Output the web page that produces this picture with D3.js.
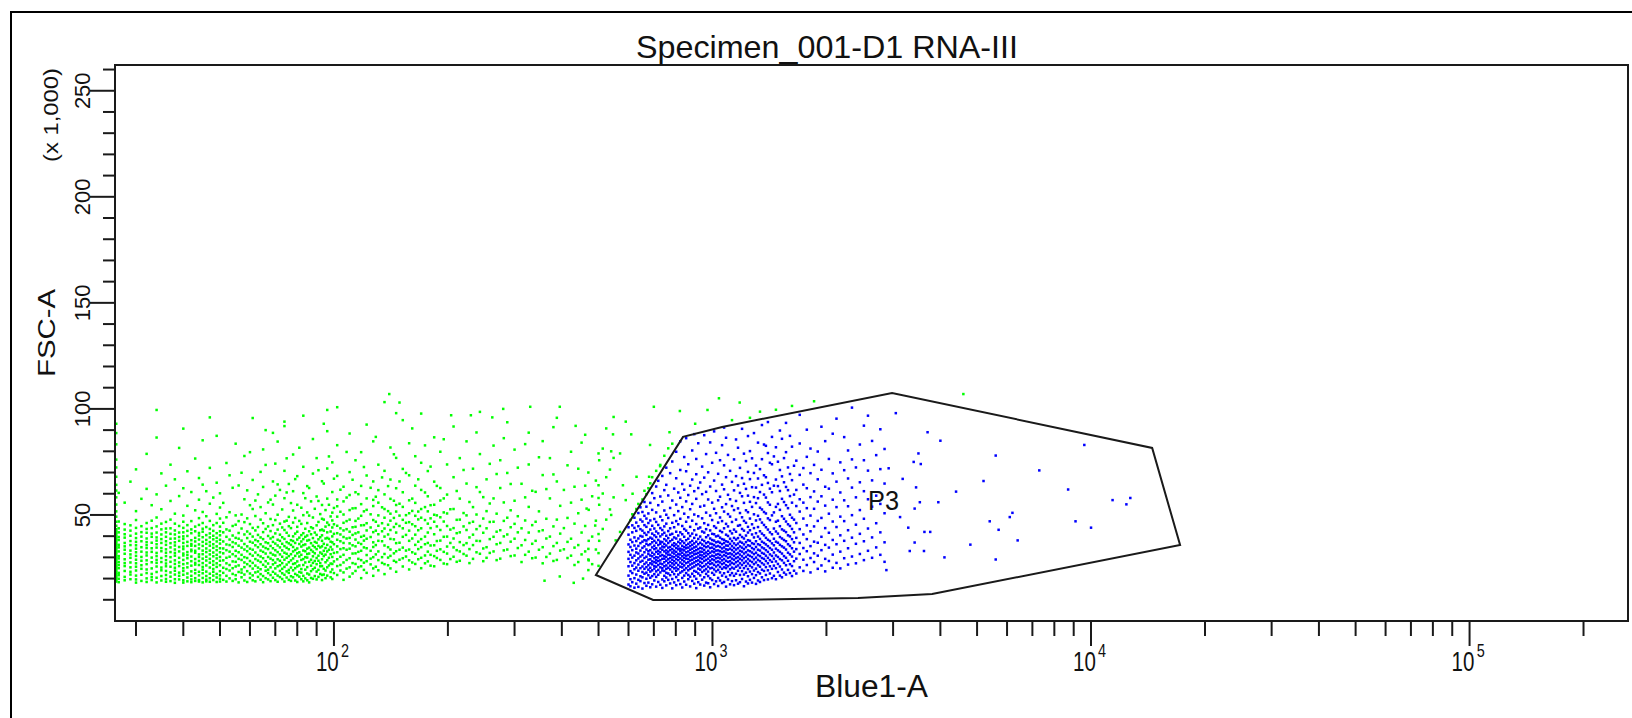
<!DOCTYPE html>
<html>
<head>
<meta charset="utf-8">
<script src="https://cdn.jsdelivr.net/npm/d3@7"></script>
<style>
  html, body { margin: 0; padding: 0; background: #fff; }
  svg { display: block; }
  text { font-family: "Liberation Sans", Arial, Helvetica, sans-serif; fill: #111; }
</style>
</head>
<body>
<div id="chart"></div>
<script>
// Axis ranges (Blue1-A log, FSC-A in thousands)
const xDomain = [26.4, 262144];
const yDomain = [0, 262.144];

const xMajorTicks = [100, 1000, 10000, 100000];
const xMinorTicks = [30, 40, 50, 60, 70, 80, 90, 200, 300, 400, 500, 600, 700, 800, 900,
  2000, 3000, 4000, 5000, 6000, 7000, 8000, 9000, 20000, 30000, 40000, 50000, 60000, 70000,
  80000, 90000, 200000];
const yMajorTicks = [50, 100, 150, 200, 250];
const yMinorTicks = [10, 20, 30, 40, 60, 70, 80, 90, 110, 120, 130, 140, 160, 170, 180, 190,
  210, 220, 230, 240, 260];

// P3 gate vertices [Blue1-A, FSC-A k]
const gateP3 = [[492, 21.7], [697, 9.9], [1060, 9.9], [2424, 10.8], [3804, 12.7], [17190, 35.8],
  [14505, 81.6], [2981, 107.5], [1060, 91.5], [836, 86.8]];
const gateLabel = { name: "P3", x: 2576, y: 52.3 };

// events, grouped by Blue1-A channel: [Blue1-A, [FSC-A in k]]
const lowColumns = [
  [26.6, [18.6,19.4,20.3,21.1,22.0,22.8,23.7,24.5,25.4,26.2,27.1,27.9,28.8,29.6,30.5,31.3,32.2,33.0,33.9,34.7,35.6,36.4,37.3,38.1,39.0,39.8,40.7,41.6,42.4,43.3,44.9,46.8,49.2,51.7,54.9,58.3,61.5,64.2,68.0,72.4,76.1,83.3,88.6,93.0]],
  [27, [18.3,19.9,21.6,22.7,24.9,26.4,27.8,29.5,30.6,32.8,34.7,35.9,38.2,39.6,41.8,43.7,46.9,60.4]],
  [28, [19.2,20.8,23.6,25.9,27.3,29.1,31.7,33.6,35.2,36.8,39.3,40.9,43.1,45.7,55.8]],
  [29, [19.7,21.9,23.2,25.3,27.6,29.8,31.4,33.2,35.8,37.7,40.2,42.6,45.1,65.7]],
  [30, [18.1,19.6,21.4,23.8,25.6,27.2,28.9,30.7,32.4,34.1,35.7,37.3,39.1,41.2,43.9,47.6,51.8,71.5]],
  [31, [18.9,21.8,24.6,26.3,28.4,30.2,32.7,34.8,37.6,39.8,41.9,44.7,57.6]],
  [32, [18.4,20.1,22.6,24.3,26.8,28.6,30.9,32.3,34.4,35.8,37.2,38.9,41.6,43.4,46.2,62.3,78.8]],
  [33, [19.3,20.7,22.2,24.8,27.7,29.9,32.6,34.3,36.9,39.7,41.2,43.8,47.3,54.6]],
  [34, [18.2,20.4,23.1,25.7,27.4,28.8,30.6,32.1,34.6,36.2,37.9,39.4,41.7,44.6,48.8,59.7,86.5]],
  [35, [19.1,21.2,23.9,25.2,27.8,29.7,32.9,34.4,36.8,38.6,40.8,43.2,45.9,52.7,69.6]],
  [36, [18.5,19.8,21.7,23.6,25.8,27.1,28.7,30.6,32.2,33.8,35.9,37.6,39.7,41.8,43.6,46.7,63.8]],
  [37, [18.8,20.9,22.9,25.6,27.9,30.1,32.5,34.7,36.7,38.8,41.1,43.7,47.8,56.6,73.7]],
  [38, [18.0,19.7,21.9,23.7,25.1,26.9,28.6,30.8,32.1,33.7,35.6,37.1,38.9,40.8,42.7,45.9,50.6,66.8]],
  [39, [19.6,21.3,22.8,25.9,27.6,29.8,32.8,34.9,37.8,39.6,41.7,44.8,58.9,81.6]],
  [40, [18.1,19.2,21.8,23.6,24.9,26.8,28.8,30.9,31.8,33.9,35.1,36.8,38.7,39.9,41.8,43.9,46.8,49.7,62.6,90.7]],
  [41, [18.7,20.5,22.4,25.3,27.2,29.6,31.1,32.5,35.4,37.3,40.1,42.5,45.2,54.3,70.6]],
  [42, [18.3,19.6,21.3,23.4,26.1,28.2,30.4,32.9,33.6,35.5,36.3,38.1,41.4,43.2,47.1,60.8]],
  [43, [18.9,20.2,22.5,24.1,26.6,27.4,29.2,32.2,33.1,35.4,37.5,39.2,42.3,44.5,52.2,76.6]],
  [44, [18.6,19.3,21.5,23.2,26.4,28.3,30.2,31.4,34.2,36.1,38.4,40.3,41.5,45.3,48.5,57.2,67.4]],
  [45, [18.2,20.3,22.5,24.2,25.5,27.3,29.4,31.5,33.2,35.4,37.3,39.5,42.1,43.5,46.2,51.4,64.3,85.2]],
  [46, [18.7,19.5,21.2,23.3,26.2,28.5,30.3,32.5,34.2,36.4,38.2,40.5,44.3,49.4,61.2]],
  [47, [18.5,20.2,22.3,25.2,27.5,29.3,31.4,33.2,35.5,37.2,39.4,41.3,43.4,47.2,55.3,72.2]],
  [48, [19.3,21.4,23.2,24.5,26.5,28.2,30.5,32.3,34.5,36.2,38.5,40.2,42.5,45.2,58.2]],
  [49, [18.4,20.5,22.2,25.5,27.2,29.5,31.2,33.4,35.2,37.5,39.2,41.4,46.2,50.5,65.2,87.3]],
  [50, [18.6,19.9,21.5,23.5,26.3,28.4,30.2,32.4,34.3,36.5,38.3,40.4,42.3,44.5,48.3,53.5,60.2]],
  [51, [19.4,22.7,25.1,28.6,31.9,34.2,37.5,41.8,46.3,55.7]],
  [52, [18.6,21.3,24.5,27.2,29.8,33.4,36.1,39.7,43.2,48.9,74.5]],
  [53, [20.1,23.8,26.4,30.3,32.7,35.8,38.4,42.6,51.3,68.7]],
  [54, [18.9,22.2,24.9,28.1,31.5,34.9,37.2,40.3,44.8,62.8]],
  [55, [19.7,21.6,25.7,27.9,30.6,33.1,36.6,39.2,45.4,49.8,83.6]],
  [56, [18.2,23.1,26.2,29.3,32.4,35.5,38.8,41.5,47.1,63.9]],
  [57, [20.6,22.8,24.3,28.8,31.2,34.6,37.9,43.6,50.2,69.9]],
  [58, [19.1,21.9,25.4,27.6,30.1,33.7,36.3,40.8,46.6,57.4,77.8]],
  [59, [18.4,23.5,26.8,29.7,32.9,35.2,39.1,42.2,48.4,61.6]],
  [60, [20.3,22.4,25.9,28.3,31.6,34.1,37.4,41.1,45.7,54.6,79.6]],
  [61, [19.2,21.5,24.7,27.4,30.8,33.6,36.9,39.8,43.9,52.8,66.5,95.7]],
  [62, [18.7,22.9,26.1,29.2,32.3,35.7,38.2,42.7,49.5,56.8]],
  [63, [20.8,23.3,25.2,28.5,31.1,34.8,37.6,40.6,44.3,59.7]],
  [64, [19.5,22.1,24.4,27.8,30.4,33.2,36.2,39.4,47.8,53.7,70.3]],
  [65, [18.3,21.2,26.5,29.6,32.6,35.1,38.6,41.9,46.1,63.2,80.9]],
  [66, [20.2,23.7,25.6,28.2,31.8,34.4,37.1,43.4,50.8,73.6]],
  [67, [19.6,22.6,24.2,27.1,30.2,33.9,36.7,40.1,44.6,55.9]],
  [68, [18.8,21.7,25.3,29.4,32.1,35.4,38.9,42.4,48.1,57.2]],
  [69, [20.4,23.2,26.7,28.7,31.3,34.3,37.3,39.6,45.2,54.9,65.8,88.7]],
  [70, [19.3,22.3,24.8,27.5,30.9,33.4,36.5,41.3,47.6,59.1,74.2]],
  [71, [18.5,21.4,25.8,29.1,32.5,35.6,38.3,43.1,50.1,64.4,84.6]],
  [72, [20.7,23.6,26.3,28.4,31.4,34.7,37.8,40.7,45.9,61.8]],
  [73, [19.8,22.5,24.6,27.3,30.3,33.3,36.4,39.5,44.1,52.6]],
  [74, [18.6,21.8,25.5,28.9,32.2,35.3,38.7,42.9,46.9,57.9,70.8,91.9]],
  [75, [20.5,23.4,26.6,29.8,31.7,34.5,37.2,41.6,47.3,60.6,76.7]],
  [76, [19.4,22.7,24.1,27.7,30.6,33.8,36.6,40.2,44.7,49.1,64.6]],
  [77, [18.9,21.1,25.2,28.6,31.5,35.9,38.1,43.8,55.6]],
  [78, [20.6,23.9,26.9,29.5,32.8,34.9,37.7,39.9,46.4,52.1,61.2,78.5]],
  [79, [19.1,22.2,24.9,27.2,30.7,33.5,36.8,41.2,48.6,66.9]],
  [80, [18.4,21.6,25.7,28.1,31.9,34.2,38.4,42.1,44.4,54.8,68.3]],
  [81, [20.9,23.1,26.2,30.4,32.4,36.3,39.3,47.2,81.7]],
  [82, [19.7,22.8,24.5,28.8,31.2,35.1,37.5,40.5,45.8,53.4]],
  [83, [18.7,21.3,26.4,29.2,33.2,35.8,38.6,41.4,49.9,60.3,72.7,96.8]],
  [84, [20.1,24.2,27.6,30.1,32.9,36.1,39.7,43.5,57.9]],
  [85, [19.2,22.4,25.4,29.9,31.6,34.1,37.9,40.3,46.2,51.2,63.6]],
  [86, [18.2,21.9,27.9,31.8,34.6,38.2,42.3,49.7,62.7]],
  [87, [20.3,23.5,26.1,28.9,33.5,36.7,40.9,44.2,56.4]],
  [88, [19.9,24.4,27.4,30.5,32.7,35.5,39.1,43.7,48.8,69.5,85.8]],
  [89, [21.2,25.1,28.3,31.9,34.8,37.3,41.7,52.9]],
  [90, [19.6,23.3,26.8,29.7,33.9,36.9,40.6,45.1,58.7,76.8]],
  [91, [20.8,24.1,28.4,30.8,35.4,38.5,46.7,56.6,71.1]],
  [92, [22.2,25.8,27.3,32.3,34.7,39.5,42.8,50.4]],
  [93, [19.3,21.7,25.9,29.1,31.7,35.2,37.8,40.4,43.1,48.2,54.7,65.9]],
  [94, [21.9,24.6,30.6,33.1,36.4,42.6,47.8,64.8]],
  [95, [20.2,23.8,27.7,31.3,34.4,38.9,44.5,52.3]],
  [96, [21.4,25.3,28.6,32.8,35.9,39.2,41.8,46.4,57.7,71.9,89.5]],
  [97, [26.2,29.8,33.6,38.7,45.3,54.8,77.6]],
  [98, [20.6,23.1,27.1,31.5,34.9,37.4,42.2,49.3]],
  [99, [19.8,24.3,26.9,30.2,33.7,37.1,39.9,44.1,47.4,51.1,60.8,74.8]],
  [100, [22.6,28.1,32.1,36.2,41.1,45.6,53.3,67.1]],
  [102, [21.7,25.9,29.1,32.4,35.2,38.3,41.4,44.9,49.2,54.1,57.3,68.4,82.9,100.8]],
  [104, [23.8,26.4,30.3,33.9,37.6,40.8,43.7,51.5,61.9]],
  [106, [19.4,22.9,27.6,31.2,34.3,36.8,39.6,42.7,46.3,50.2,56.4,63.3]],
  [108, [24.7,28.8,33.6,38.9,43.3,47.1,58.2,79.7]],
  [110, [20.9,25.3,29.6,34.1,36.6,39.2,42.1,47.8,52.3,59.4,70.2,88.4]],
  [112, [22.4,27.3,31.8,35.7,40.6,44.2,53.1,66.6]],
  [114, [23.6,26.9,31.9,35.2,38.4,41.3,44.4,47.2,53.2,60.7,75.8]],
  [116, [25.4,29.3,32.6,36.9,41.8,48.3,59.8]],
  [118, [20.2,25.8,28.7,33.1,36.3,39.7,45.1,49.6,55.1,63.7,79.6]],
  [120, [24.1,27.5,34.7,37.9,40.2,45.2,51.7,72.6]],
  [122, [22.7,28.2,31.1,34.3,38.8,42.7,46.1,52.4,57.8,68.6,92.6]],
  [125, [26.7,29.4,33.1,39.6,44.1,50.3,62.8]],
  [127, [21.3,24.8,30.1,34.9,37.1,41.9,47.6,54.2,57.1,65.8,84.7]],
  [129, [25.6,31.4,35.8,42.6,46.8,58.6,86.8]],
  [131, [23.9,28.7,32.8,37.8,40.9,44.9,49.8,55.8,61.7,73.7]],
  [134, [27.4,30.1,37.6,42.3,46.1,53.6,67.7]],
  [136, [22.1,26.8,31.6,35.6,39.8,43.6,48.7,52.8,59.7,70.8,103.2]],
  [139, [26.3,29.9,34.8,40.8,45.4,51.8,63.6]],
  [141, [24.8,30.7,33.7,38.7,42.9,47.3,50.6,57.6,66.7,81.8]],
  [144, [28.4,31.9,38.5,44.3,48.6,56.7,78.6]],
  [146, [23.2,27.8,32.9,36.7,41.7,45.8,51.6,54.7,62.6,76.9]],
  [149, [28.9,33.6,36.9,44.8,49.7,55.3,65.8]],
  [152, [25.7,29.6,34.6,39.7,43.7,47.7,53.8,60.7,71.7,94.7]],
  [155, [30.4,33.2,40.6,46.3,49.9,69.8]],
  [158, [24.3,28.6,33.7,37.8,42.6,46.6,50.8,56.9,68.7,83.8]],
  [161, [27.6,32.4,38.9,45.6,51.9,57.7,90.8]],
  [164, [26.9,31.7,35.9,40.7,44.7,49.6,55.7,63.8,77.7]],
  [167, [29.1,33.9,37.4,42.8,47.9,51.6,66.8]],
  [170, [24.9,29.8,34.8,38.6,43.7,48.7,52.8,61.8,74.6,97.8]],
  [174, [27.2,30.9,36.2,39.8,47.6,53.7,60.6,82.8]],
  [177, [28.1,32.7,36.8,41.7,45.9,51.7,58.8,70.7]],
  [180, [26.1,31.2,35.6,43.8,48.4,54.6,72.8]],
  [184, [25.8,30.6,35.7,40.9,46.8,50.1,54.8,65.7,86.6]],
  [187, [29.7,33.1,37.7,44.6,49.8,63.7]],
  [191, [28.8,33.8,37.9,42.9,48.9,56.8,62.7,79.8]],
  [195, [27.1,32.6,39.7,46.9,51.2,57.8,85.7]],
  [199, [26.8,31.8,35.1,39.8,44.8,50.7,59.6,73.8]],
  [203, [29.2,36.8,43.1,52.7]],
  [207, [30.3,34.7,38.9,43.8,52.8,67.8,91.7]],
  [211, [27.9,33.4,41.4,47.7,61.3]],
  [215, [28.4,32.8,37.2,41.8,47.8,57.7,76.8]],
  [220, [31.6,35.8,44.6,50.9,71.2]],
  [224, [30.8,36.7,42.9,49.8,64.8,84.7]],
  [228, [27.3,33.9,39.4,46.2,56.1]],
  [233, [29.3,35.8,40.7,46.8,53.7,71.8]],
  [238, [32.4,37.8,43.3,50.2,63.1,88.9]],
  [243, [31.7,37.7,44.8,60.8,78.7,98.6]],
  [248, [28.2,34.2,41.6,48.3,58.4]],
  [253, [29.8,34.8,43.7,51.8,66.8]],
  [258, [32.1,38.6,46.7,55.4,74.1]],
  [264, [32.8,39.7,46.8,57.8,82.7]],
  [269, [28.7,36.2,42.1,50.6,69.3]],
  [275, [29.4,36.8,42.8,62.7,75.8]],
  [281, [33.3,39.9,47.2,55.9,86.2]],
  [287, [33.7,40.8,48.7,69.8,93.7]],
  [293, [30.6,37.4,44.2,52.2,64.6]],
  [300, [30.9,38.8,45.8,56.7,80.8]],
  [306, [34.4,41.8,49.4,72.3]],
  [313, [27.8,35.7,43.7,64.7]],
  [320, [31.2,38.2,47.4,58.3,83.4]],
  [327, [32.7,41.7,53.8,73.8,88.8]],
  [334, [29.6,36.4,45.2,61.4]],
  [341, [29.9,37.8,46.8,60.9]],
  [348, [33.6,42.3,51.7,77.2]],
  [356, [27.2,34.8,42.8,68.8,84.8]],
  [364, [30.2,38.9,48.2,62.2]],
  [372, [31.8,39.8,57.8,76.8]],
  [380, [28.3,35.3,44.6,69.1,91.4]],
  [388, [28.8,36.8,47.8,65.8,95.8]],
  [396, [33.2,41.2,54.3]],
  [405, [33.8,43.8,61.8]],
  [414, [29.7,37.3,48.6,73.4]],
  [423, [30.8,38.8,55.8,79.8]],
  [432, [26.4,34.6,45.9,63.3]],
  [442, [27.8,35.8,50.8,71.8]],
  [451, [31.4,41.7,57.2,84.1]],
  [461, [32.8,44.8,63.8,87.8]],
  [471, [28.6,37.8,52.4]],
  [481, [26.8,39.8,58.8]],
  [492, [33.7,47.3,66.2]],
  [502, [37.8,54.8,75.8]],
  [513, [43.4,60.1,81.3]],
  [524, [47.8,67.8,90.8]],
  [536, [52.6,71.4]],
  [548, [58.3,76.9,96.2]]
];

const p3Columns = [
  [600, [17.2,21.4,25.8,29.3,32.6,36.1,40.7,44.2]],
  [607, [16.4,19.7,23.5,27.8,31.2,34.9,38.3,47.6]],
  [614, [18.3,22.6,26.1,29.9,33.4,37.2,41.8,45.1,50.3]],
  [622, [15.7,20.2,24.4,27.3,30.8,35.6,39.4,43.9,48.7]],
  [629, [17.6,21.9,25.2,28.6,32.3,34.1,37.7,42.5,46.4,52.8]],
  [637, [16.1,19.4,23.7,26.6,29.5,31.8,35.4,38.9,44.7,50.9,55.2]],
  [645, [18.8,21.1,24.9,27.9,30.4,33.2,36.7,40.1,43.3,47.8,53.6]],
  [653, [15.3,20.6,23.1,25.7,28.4,31.1,34.5,37.4,39.8,42.6,46.9,51.4,57.3]],
  [661, [17.9,22.3,24.6,26.9,29.7,32.4,35.2,38.1,41.5,45.2,49.6,56.1,61.4]],
  [669, [16.6,19.9,22.8,25.4,27.6,30.3,33.7,36.4,37.9,40.6,44.4,48.3,53.9,59.8]],
  [677, [18.1,21.6,24.2,26.3,28.9,31.6,32.9,35.8,38.6,41.9,46.2,50.7,62.6]],
  [685, [15.9,20.4,23.3,25.1,27.2,29.1,30.9,33.4,36.2,39.3,43.1,47.4,55.7,64.9]],
  [693, [17.3,21.2,23.9,26.7,28.1,30.5,32.2,34.7,37.1,38.8,41.2,44.9,52.4,60.3,67.8]],
  [702, [19.1,22.1,24.7,25.9,27.8,29.6,31.4,33.9,35.5,37.8,40.4,43.6,48.1,57.9]],
  [710, [16.2,20.8,23.4,25.6,27.4,28.7,30.1,32.6,34.3,36.9,39.6,42.2,46.7,51.2,63.4,70.8]],
  [719, [18.4,21.8,24.1,26.4,28.3,29.9,31.7,33.1,35.8,38.2,41.3,45.3,54.6,66.1]],
  [728, [17.1,22.9,25.3,27.1,28.6,30.7,32.4,34.2,36.4,37.4,39.9,43.8,49.2,58.7,73.6]],
  [737, [15.6,19.6,23.8,24.9,26.8,29.3,31.1,33.6,35.1,37.2,40.8,42.9,47.5,56.3,68.4]],
  [746, [18.7,21.3,23.6,25.8,27.7,29.4,30.6,32.8,34.8,36.3,38.6,41.6,44.6,52.1,61.7,77.9]],
  [755, [16.8,20.5,22.7,24.6,26.2,28.4,30.2,31.9,33.3,35.6,37.9,40.2,45.9,50.1,64.2,72.3]],
  [764, [19.4,22.4,25.1,27.3,29.1,31.3,32.7,34.6,36.8,39.1,42.4,48.6,59.2,81.4]],
  [773, [17.7,21.6,24.3,26.1,27.9,29.7,31.2,33.4,34.9,37.6,40.7,43.7,53.3,69.7]],
  [783, [15.4,19.8,23.2,25.5,27.2,28.9,30.4,32.3,33.9,35.9,38.3,41.1,46.3,56.8,75.2,83.6]],
  [792, [18.2,22.1,24.8,26.6,28.2,30.1,31.8,33.2,35.3,36.7,39.4,44.2,49.9,62.4]],
  [802, [16.9,20.7,23.7,25.2,27.4,29.2,30.9,32.6,34.4,36.1,38.9,42.1,47.1,54.9,67.3,79.8]],
  [812, [19.2,21.9,24.4,26.4,28.7,30.3,31.6,33.8,35.2,37.3,40.3,45.6,51.8,60.6]],
  [822, [17.4,22.8,25.6,27.6,29.5,31.4,32.9,34.1,36.6,38.4,41.8,48.2,58.1,71.2,84.7]],
  [832, [15.8,20.3,23.4,25.3,26.9,28.8,30.5,32.2,33.7,35.4,37.6,40.9,44.8,53.7,64.6]],
  [842, [18.6,21.4,24.1,26.2,28.1,29.8,31.3,33.3,34.8,36.8,39.7,43.4,50.6,61.9,77.3]],
  [852, [17.1,22.6,24.9,27.3,29.4,30.8,32.4,34.3,35.7,38.1,42.6,46.8,56.4,70.6,86.2]],
  [863, [19.7,21.7,23.9,25.8,27.7,29.2,31.1,32.8,34.6,36.4,38.8,41.4,48.9,59.4,73.9]],
  [873, [16.3,20.9,24.6,26.6,28.5,30.2,31.9,33.6,35.3,37.1,40.1,44.4,52.7,63.8]],
  [884, [18.9,22.3,25.2,27.1,28.9,30.6,32.3,34.1,35.9,37.8,41.2,47.3,55.2,66.7,80.4]],
  [895, [17.6,21.1,23.6,25.7,27.6,29.5,31.4,32.9,34.7,36.6,39.2,42.8,50.2,61.2,88.1]],
  [906, [15.5,19.9,23.2,26.3,28.2,29.9,31.7,33.4,35.1,37.4,40.6,45.7,57.6,69.2,76.4]],
  [917, [18.3,22.4,24.7,26.8,28.6,30.4,32.1,33.9,36.2,38.7,43.6,49.4,62.7,83.8]],
  [928, [17.2,21.5,24.2,26.1,27.9,29.7,31.2,32.7,34.5,36.9,39.8,44.1,53.9,65.3]],
  [939, [19.5,23.1,25.4,27.4,29.3,30.9,32.6,34.2,36.1,38.3,42.2,48.4,59.8,72.8]],
  [951, [16.7,20.6,23.8,25.9,28.3,30.1,31.8,33.5,35.4,37.7,41.7,46.1,54.4,67.6,87.6]],
  [962, [18.1,22.2,24.5,26.7,28.8,30.7,32.3,34.8,36.7,39.5,43.3,51.1,60.9,78.7]],
  [974, [17.8,21.2,23.3,25.6,27.5,29.4,31.5,33.1,35.2,37.2,40.4,45.3,57.3,70.1]],
  [986, [15.9,20.1,24.8,26.9,28.4,30.3,32.2,34.4,36.5,38.9,42.7,49.7,63.4,84.2]],
  [998, [19.3,22.7,25.1,27.2,29.1,30.8,32.8,34.6,36.3,38.2,41.1,47.6,55.8,74.6]],
  [1010, [17.4,21.8,24.3,26.5,28.7,30.5,32.4,33.9,35.8,37.9,40.9,44.7,52.9,66.2,89.4]],
  [1022, [18.7,23.4,25.7,27.8,29.6,31.3,33.2,35.1,37.1,39.9,43.9,50.8,61.3,79.3]],
  [1035, [16.5,20.3,24.1,26.4,28.1,29.9,31.6,33.3,35.4,37.4,40.2,46.4,56.9,69.4]],
  [1047, [19.1,22.9,25.5,27.6,29.5,31.2,32.9,34.9,36.9,39.3,42.5,48.8,58.6,75.8]],
  [1060, [17.9,21.4,24.6,26.8,28.6,30.4,32.5,34.2,36.2,38.6,41.9,47.1,53.6,64.3,82.9]],
  [1073, [18.4,22.5,25.3,27.3,29.2,31.1,32.8,34.7,36.8,38.3,43.7,51.6,62.1,73.4,91.2]],
  [1086, [16.2,20.8,24.9,26.3,28.4,30.6,32.2,33.8,35.6,37.6,40.7,45.8,55.1,67.8,86.4]],
  [1099, [19.6,23.2,25.8,27.9,29.8,31.7,33.6,35.5,37.3,40.1,44.6,50.4,59.5,78.3]],
  [1113, [17.3,21.6,24.4,26.6,28.2,30.2,31.9,34.1,36.4,38.8,42.4,49.2,57.4,70.8]],
  [1126, [18.8,22.6,25.2,27.4,29.4,31.4,33.4,35.3,37.7,41.3,46.7,54.2,65.6,94.7]],
  [1140, [16.9,21.3,24.7,26.9,28.9,30.7,32.6,34.5,36.6,39.2,43.1,52.3,61.6,76.2]],
  [1154, [19.2,22.3,25.6,27.7,29.7,31.6,33.7,35.8,38.4,42.1,47.8,56.6,68.3,85.6]],
  [1168, [17.6,23.7,26.2,28.3,30.1,32.1,34.3,36.5,39.1,44.9,53.1,63.9,81.7]],
  [1182, [18.3,21.7,25.1,27.2,29.3,31.3,33.1,35.2,37.4,40.6,45.2,50.9,60.4,72.2]],
  [1197, [19.8,23.5,26.4,28.6,30.5,32.7,34.6,36.9,39.6,43.4,48.9,58.8,67.4,90.6]],
  [1211, [16.4,21.9,24.9,27.4,29.6,31.8,33.9,36.1,38.9,42.6,47.2,55.7,64.7,78.9]],
  [1226, [18.6,22.8,25.9,28.1,30.3,32.4,34.8,37.2,40.3,46.3,52.2,62.3,75.4]],
  [1241, [17.7,21.1,24.5,27.1,29.2,31.2,33.3,35.7,38.1,41.7,44.4,51.3,59.1,70.3,87.2]],
  [1256, [19.4,23.3,26.1,28.4,30.7,32.9,35.4,37.8,42.8,48.3,56.2,66.9,80.1,95.8]],
  [1272, [18.1,22.1,25.3,27.8,30.1,32.3,34.4,36.7,40.8,45.6,53.8,63.1,76.7]],
  [1287, [20.3,23.8,26.8,29.1,31.5,33.8,36.3,39.4,43.8,50.3,58.4,69.8,88.6]],
  [1303, [17.5,21.6,24.7,27.6,29.9,32.2,34.9,37.6,41.4,47.4,55.6,62.9,73.3]],
  [1319, [19.1,23.1,26.3,28.8,31.1,33.6,36.2,39.8,44.3,49.6,57.9,67.2,84.1]],
  [1335, [18.4,22.4,25.6,28.2,30.6,33.2,35.8,38.7,42.3,47.9,53.4,60.8,71.6,98.7]],
  [1351, [20.6,24.2,27.3,29.7,32.1,34.7,37.4,41.2,46.4,52.6,64.2,76.3,92.4]],
  [1368, [19.3,23.6,26.6,29.3,31.7,34.2,36.8,40.4,45.3,51.4,59.6,68.7,83.2]],
  [1384, [21.7,25.4,28.3,30.8,33.4,36.1,39.2,44.2,50.7,58.2,67.8,82.6]],
  [1401, [19.6,23.9,27.2,29.8,32.6,35.3,38.3,43.1,48.4,55.9,65.1,79.2,93.8]],
  [1418, [22.4,25.8,28.7,31.4,34.4,37.7,41.8,47.6,54.8,62.4,74.6]],
  [1436, [20.2,24.6,27.9,30.7,33.6,36.6,40.9,49.8,60.7,73.9,86.8]],
  [1453, [21.3,26.1,29.4,32.3,35.7,38.8,43.6,51.2,63.8,77.6]],
  [1471, [19.7,24.9,28.1,30.9,34.1,37.4,42.2,46.8,53.8,66.7,81.9,99.6]],
  [1489, [23.1,26.9,30.2,33.3,36.9,41.2,47.3,55.2,63.6,75.1]],
  [1507, [21.4,25.7,29.2,32.6,35.9,39.6,44.7,52.4,61.3,71.2,89.8]],
  [1526, [20.6,24.3,28.6,31.8,35.2,38.9,43.2,49.4,57.6,68.2,85.9]],
  [1545, [22.8,27.4,30.6,34.6,38.2,42.6,48.2,56.1,65.4,76.8]],
  [1564, [21.9,26.3,29.8,33.7,37.6,41.9,46.9,54.6,63.2,79.6,93.4]],
  [1583, [24.1,28.4,32.2,36.2,40.4,45.6,53.2,61.7,72.4]],
  [1602, [22.6,26.8,31.4,35.4,39.9,44.8,50.1,58.9,69.3,87.3]],
  [1622, [21.2,25.9,30.4,34.3,38.6,43.4,48.7,55.8,66.4,82.2,101.4]],
  [1642, [23.7,28.2,32.7,37.1,41.8,47.8,59.6,73.2]],
  [1665, [22.4,29.4,33.9,39.2,46.2,54.2,61.8,75.6]],
  [1700, [25.3,31.6,36.8,43.3,51.6,57.4,68.9,83.7,97.2]],
  [1738, [23.6,28.9,34.4,40.8,48.3,55.8,64.3,72.1]],
  [1775, [26.4,32.9,38.6,45.1,53.2,62.6,77.4,90.2]],
  [1815, [22.9,29.7,35.3,42.3,49.7,58.4,69.7,81.3]],
  [1855, [27.8,31.9,37.4,44.6,52.9,61.1,73.6,103.6]],
  [1897, [24.6,30.8,36.9,47.2,56.3,66.8,79.9]],
  [1940, [26.2,33.4,39.7,48.6,58.8,71.3,91.6]],
  [1985, [23.4,29.3,35.9,43.8,54.4,63.3,84.8]],
  [2030, [28.3,34.6,41.6,50.6,62.4,76.4]],
  [2078, [25.1,31.3,38.2,46.9,57.2,69.6,88.3]],
  [2126, [27.4,36.2,44.3,53.7,65.7,95.4]],
  [2176, [24.8,32.7,40.4,49.2,60.6,74.8]],
  [2228, [29.6,37.8,47.1,56.9,71.1,86.7]],
  [2281, [26.6,34.3,42.8,54.1,67.2,80.4]],
  [2336, [30.4,39.3,49.9,62.9,76.2,100.6]],
  [2393, [27.2,36.4,45.4,58.3,72.4]],
  [2451, [31.6,41.1,52.3,65.4,83.2]],
  [2512, [28.7,37.6,48.2,61.2,75.8,92.1]],
  [2575, [33.1,43.6,57.4,70.9,96.8]],
  [2640, [29.8,39.4,53.9,66.3,84.9]],
  [2707, [34.7,46.1,59.1,78.2]],
  [2776, [31.2,41.8,55.2,71.6,90.4]],
  [2848, [27.9,37.1,50.8,64.8,81.1]]
];

// single events: sparse edges of both populations [Blue1-A, FSC-A k]
const scatterEvents = [
  [34, 99.5], [47, 96], [96, 99.5], [140, 107], [149, 103], [146, 98], [204, 97], [262, 96],
  [435, 92], [74, 94], [94, 93], [66, 90], [4600, 107], [700, 101], [820, 99], [1040, 105],
  [1180, 103], [970, 99.5], [590, 94], [610, 88], [546, 88], [684, 83], [540, 80], [500, 79],
  [570, 79], [770, 89], [900, 93], [470, 70], [500, 64], [580, 64], [630, 68], [680, 68],
  [727, 73], [500, 58], [590, 57], [615, 60], [465, 53], [540, 50], [570, 42], [490, 45],
  [500, 41], [555, 38], [470, 34], [500, 32], [470, 29], [500, 26], [470, 24], [455, 20],
  [430, 18], [395, 21], [360, 19], [330, 101], [280, 100], [230, 97], [395, 101],
  [3700, 89], [4000, 85], [3500, 79], [3400, 75], [3550, 74], [2920, 72], [3180, 67],
  [3450, 63], [3530, 56], [3950, 56], [3420, 53], [3130, 49], [3290, 44], [3630, 42],
  [3760, 42], [3420, 37], [3320, 33], [3620, 33], [4100, 30], [2880, 24], [3050, 98],
  [5200, 66], [5600, 78], [9600, 83], [8700, 62], [11400, 57], [12700, 58], [12400, 55],
  [5400, 47], [5700, 43], [6200, 51], [6100, 49], [6400, 38], [9100, 47], [10000, 44],
  [5600, 29], [4400, 61], [7300, 71], [4800, 36]
];

const width = 1632, height = 718;
const plot = { left: 115, right: 1628, top: 65, bottom: 621 };
const dot = 2.5;

const svg = d3.select("#chart").append("svg")
  .attr("width", width)
  .attr("height", height);

const x = d3.scaleLog().domain(xDomain).range([plot.left, plot.right]);
const y = d3.scaleLinear().domain(yDomain).range([plot.bottom, plot.top]);

// outer frame
svg.append("path")
  .attr("d", `M11,${height + 10}V12H${width + 10}`)
  .attr("fill", "none")
  .attr("stroke", "#000")
  .attr("stroke-width", 2);

// flatten events
const events = [];
[...lowColumns, ...p3Columns].forEach(([xv, ys]) => ys.forEach(yv => events.push([xv, yv])));
scatterEvents.forEach(d => events.push(d));

const gatePx = gateP3.map(([a, b]) => [x(a), y(b)]);

// dots, coloured by gate membership
svg.append("g")
  .selectAll("rect")
  .data(events)
  .join("rect")
  .attr("x", d => x(d[0]) - dot / 2)
  .attr("y", d => y(d[1]) - dot / 2)
  .attr("width", dot)
  .attr("height", dot)
  .attr("fill", d => d3.polygonContains(gatePx, [x(d[0]), y(d[1])]) ? "#0000ff" : "#00ff00");

// gate
svg.append("path")
  .attr("d", d3.line()(gatePx) + "Z")
  .attr("fill", "none")
  .attr("stroke", "#1a1a1a")
  .attr("stroke-width", 2);

svg.append("text")
  .attr("x", x(gateLabel.x))
  .attr("y", y(gateLabel.y))
  .attr("font-size", 27)
  .attr("textLength", 31)
  .attr("lengthAdjust", "spacingAndGlyphs")
  .text(gateLabel.name);

// plot frame
svg.append("rect")
  .attr("x", plot.left)
  .attr("y", plot.top)
  .attr("width", plot.right - plot.left)
  .attr("height", plot.bottom - plot.top)
  .attr("fill", "none")
  .attr("stroke", "#1a1a1a")
  .attr("stroke-width", 2);

// axes
function styleAxis(g) {
  g.select(".domain").remove();
  g.selectAll(".tick line").attr("stroke", "#1a1a1a").attr("stroke-width", 2);
}

svg.append("g")
  .attr("transform", `translate(0,${plot.bottom})`)
  .call(d3.axisBottom(x).tickValues(xMinorTicks).tickSize(15).tickFormat("").offset(0))
  .call(styleAxis);

svg.append("g")
  .attr("transform", `translate(0,${plot.bottom})`)
  .call(d3.axisBottom(x).tickValues(xMajorTicks).tickSize(25).tickFormat("").offset(0))
  .call(styleAxis);

svg.append("g")
  .attr("transform", `translate(${plot.left},0)`)
  .call(d3.axisLeft(y).tickValues(yMinorTicks).tickSize(12).tickFormat("").offset(0))
  .call(styleAxis);

svg.append("g")
  .attr("transform", `translate(${plot.left},0)`)
  .call(d3.axisLeft(y).tickValues(yMajorTicks).tickSize(25).tickFormat("").offset(0))
  .call(styleAxis);

// x tick labels: 10^n as one text with a raised exponent
svg.append("g")
  .selectAll("text")
  .data(xMajorTicks)
  .join("text")
  .attr("transform", d => `translate(${x(d) - 18},671) scale(0.76,1)`)
  .attr("font-size", 27)
  .call(t => t.append("tspan").text("10"))
  .call(t => t.append("tspan")
    .attr("dx", 3)
    .attr("dy", -14)
    .attr("font-size", 19)
    .text(d => String(Math.round(Math.log10(d)))));

// y tick labels
svg.append("g")
  .selectAll("text")
  .data(yMajorTicks)
  .join("text")
  .attr("transform", d => `translate(90,${y(d)}) rotate(-90)`)
  .attr("text-anchor", "middle")
  .attr("font-size", 22)
  .text(d => d);

// titles
svg.append("text")
  .attr("x", 827)
  .attr("y", 58)
  .attr("text-anchor", "middle")
  .attr("font-size", 32)
  .attr("textLength", 382)
  .attr("lengthAdjust", "spacingAndGlyphs")
  .text("Specimen_001-D1 RNA-III");

svg.append("text")
  .attr("x", (plot.left + plot.right) / 2)
  .attr("y", 697)
  .attr("text-anchor", "middle")
  .attr("font-size", 31)
  .attr("textLength", 113)
  .attr("lengthAdjust", "spacingAndGlyphs")
  .text("Blue1-A");

svg.append("text")
  .attr("transform", "translate(55,333) rotate(-90)")
  .attr("text-anchor", "middle")
  .attr("font-size", 24)
  .attr("textLength", 88)
  .attr("lengthAdjust", "spacingAndGlyphs")
  .text("FSC-A");

svg.append("text")
  .attr("transform", "translate(58,115) rotate(-90)")
  .attr("text-anchor", "middle")
  .attr("font-size", 21)
  .attr("textLength", 94)
  .attr("lengthAdjust", "spacingAndGlyphs")
  .text("(x 1,000)");
</script>
</body>
</html>
